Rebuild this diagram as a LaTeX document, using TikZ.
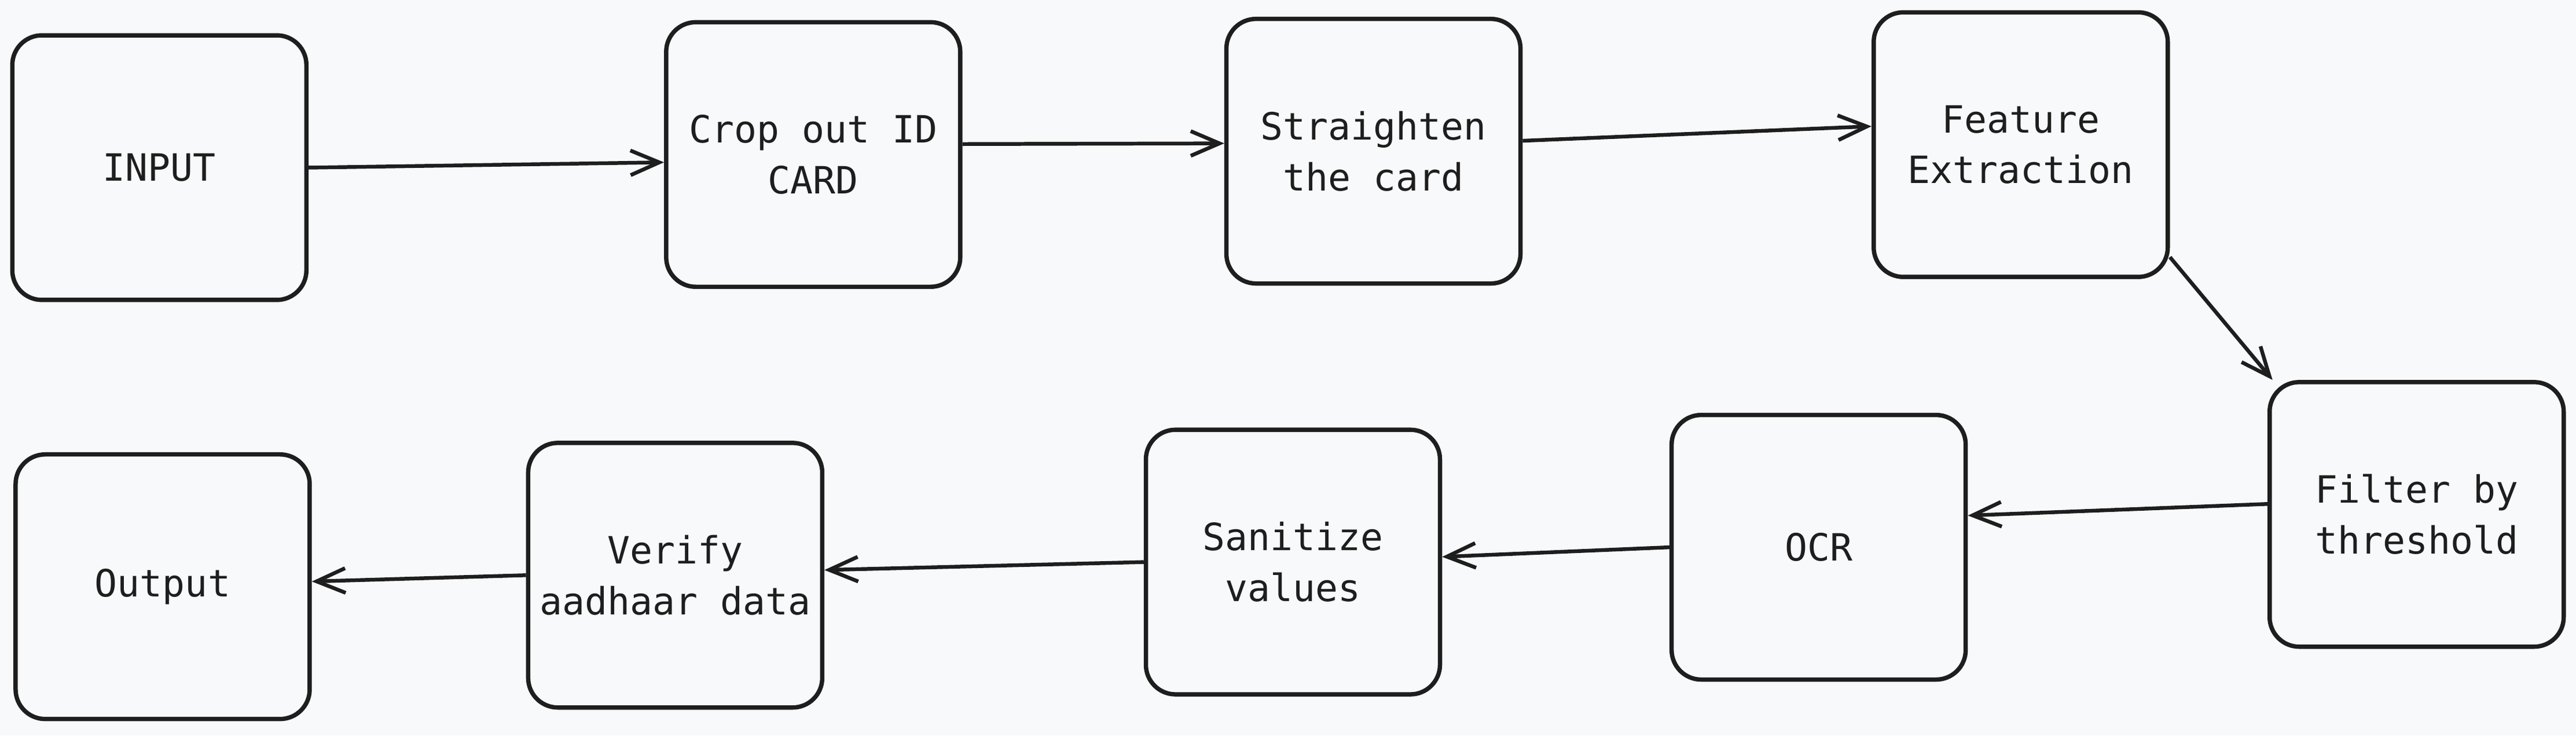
\documentclass[tikz,border=0pt]{standalone}
\usepackage{fontspec}
\setmonofont{DejaVu Sans Mono}
\usetikzlibrary{arrows.meta, positioning}
\definecolor{bgc}{HTML}{F8F9FA}
\definecolor{ink}{HTML}{1E1E1E}

\begin{document}
\begin{tikzpicture}[x=0.2mm, y=-0.2mm,
    stage/.style={draw=ink, line width=1.5pt, rounded corners=3.6mm, minimum width=35.8mm,
        minimum height=32.2mm, inner sep=0pt, text=ink, align=center,
        font=\ttfamily\fontsize{13}{17.6}\selectfont},
    flow/.style={draw=ink, line width=1.3pt, -{Straight Barb[length=3.5mm, width=3mm]}}]
            \fill [bgc] (0,0) rectangle (1568,447.5);
            \node [stage] (inp) at (97,102) {INPUT};
            \node [stage] (crop) at (495,94) {Crop out ID\\CARD};
            \node [stage] (strt) at (836,92) {Straighten\\the card};
            \node [stage] (feat) at (1230,88) {Feature\\Extraction};
            \node [stage] (filt) at (1471,313) {Filter by\\threshold};
            \node [stage] (ocr) at (1107,333) {OCR};
            \node [stage] (sani) at (787,342) {Sanitize\\values};
            \node [stage] (veri) at (411,350) {Verify\\aadhaar data};
            \node [stage] (outp) at (99,357) {Output};
            \draw [flow] (inp.east) -- (crop.183);
            \draw [flow] (crop.4) -- (strt.177);
            \draw [flow] (strt.4.5) -- (feat.173);
            \draw [flow] (feat.-37) -- (filt.137);
            \draw [flow] (filt.176) -- (ocr.12.5);
            \draw [flow] (ocr.west) -- (sani.2.5);
            \draw [flow] (sani.west) -- (veri.2);
            \draw [flow] (veri.west) -- (outp.2.5);
        \end{tikzpicture}
\end{document}
